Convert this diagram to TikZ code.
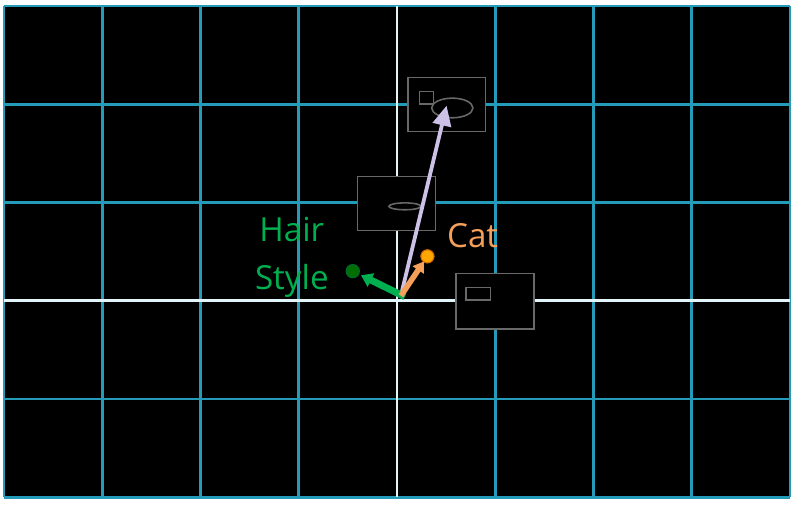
\documentclass[tikz,border=0pt]{standalone}
\usepackage{fontspec}
\setmainfont{Open Sans}
\usetikzlibrary{arrows.meta}
\definecolor{gridcyan}{RGB}{36,155,185}
\definecolor{axiswhite}{RGB}{225,245,250}
\definecolor{boxgray}{RGB}{105,105,105}
\definecolor{hairgreen}{RGB}{0,176,80}
\definecolor{dotgreen}{RGB}{0,110,0}
\definecolor{catorange}{RGB}{244,160,90}
\definecolor{dotorange}{RGB}{255,166,0}
\definecolor{lavender}{RGB}{204,194,232}
\tikzset{
  gridline/.style={gridcyan, line width=0.8pt},
  axisline/.style={axiswhite, line width=0.8pt},
  frame/.style={boxgray, line width=0.45pt, fill=black},
  dot/.style={circle, inner sep=0pt, minimum size=0.135cm},
  label/.style={font=\fontsize{9.6}{13.9}\selectfont, align=center, inner sep=0pt}
}

\begin{document}
\begin{tikzpicture}
                \useasboundingbox (-4.04,-2.09) rectangle (4.01,3.06);
                \fill[black] (-4,-2) rectangle (4,3);
                \draw[gridline] (-4,-2) grid (4,3);
                \draw[axisline] (-4,0) -- (4,0);
                \draw[axisline] (0,-2) -- (0,3);
                % the three frames
                \filldraw[frame] (0.11,1.72) rectangle (0.90,2.27);
                \draw[boxgray, line width=0.45pt] (0.23,2.00) rectangle (0.37,2.13);
                \draw[boxgray, line width=0.45pt] (0.563,1.961) ellipse (0.21 and 0.10);
                \filldraw[frame] (-0.40,0.716) rectangle (0.39,1.265);
                \draw[boxgray, line width=0.45pt] (0.081,0.96) ellipse (0.163 and 0.035);
                \filldraw[frame] (0.60,-0.29) rectangle (1.394,0.275);
                \draw[boxgray, line width=0.45pt] (0.70,0.007) rectangle (0.954,0.132);
                % points and labels
                \coordinate (o) at (0.04,0.05);
                \coordinate (og) at (0.08,0.04);
                \coordinate (tgt) at (0.505,1.985);
                \node[dot, fill=dotgreen, draw=hairgreen!60!black, line width=0.3pt] (hair) at (-0.45,0.30) {};
                \node[dot, fill=dotorange, draw=orange!80!black, line width=0.3pt] (cat) at (0.31,0.451) {};
                \node[label, text=hairgreen] (hairlbl) at (-1.07,0.44) {Hair\\Style};
                \node[label, text=catorange] (catlbl) at (0.77,0.66) {Cat};
                \draw[lavender, line width=1.1pt, -{Triangle[length=5.8pt, width=5.3pt]}] (o) -- (tgt);
                \draw[hairgreen, line width=2pt, -{Triangle[length=3.2pt, width=4.2pt]}, shorten >=0.6pt] (og) -- (hair);
                \draw[catorange, line width=1.6pt, -{Triangle[length=3pt, width=3.8pt]}, shorten >=-0.3pt] (o) -- (cat);
            \end{tikzpicture}
\end{document}
